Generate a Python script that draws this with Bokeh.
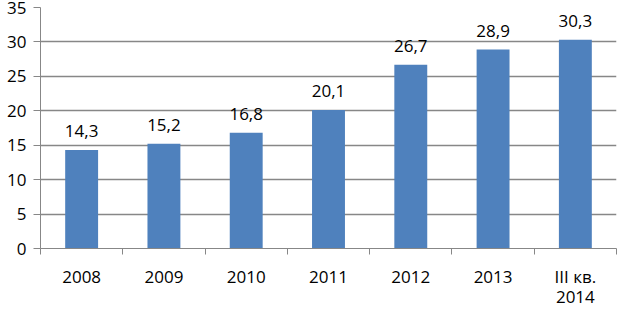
from bokeh.plotting import figure
from bokeh.models import FixedTicker, Range1d, ColumnDataSource, LinearAxis
from bokeh.core.properties import value
from bokeh.embed import file_html
from bokeh.resources import INLINE

categories = ["2008", "2009", "2010", "2011", "2012", "2013", "III кв."]
categories_line2 = ["", "", "", "", "", "", "2014"]
values = [14.3, 15.2, 16.8, 20.1, 26.7, 28.9, 30.3]
y_ticks = [0, 5, 10, 15, 20, 25, 30, 35]

FONT = "Open Sans"
FS = "17px"
BAR = "#4f81bd"
GRID = "#878787"

n = len(categories)
xs = [i + 0.5 for i in range(n)]
labels = [f"{v:.1f}".replace(".", ",") for v in values]
src = ColumnDataSource(dict(x=xs, top=values, label=labels))

p = figure(width=617, height=309, output_backend="svg", toolbar_location=None,
           x_range=Range1d(0, n), y_range=Range1d(0, 35),
           min_border_left=40, min_border_right=1, min_border_top=7,
           min_border_bottom=0)
p.outline_line_color = None
p.background_fill_color = "white"
p.border_fill_color = "white"

p.vbar(x="x", top="top", width=0.4, bottom=0, source=src,
       fill_color=BAR, line_color=None)
p.text(x="x", y="top", text="label", source=src, text_align="center",
       text_baseline="bottom", y_offset=-13, text_font=value(FONT),
       text_font_size=FS, text_color="#000000")

# x axis: labels at category centres, ticks at category boundaries
xa = p.xaxis[0]
xa.ticker = FixedTicker(ticks=xs, minor_ticks=list(range(n + 1)))
xa.major_label_overrides = {x: c for x, c in zip(xs, categories)}
xa.major_tick_line_color = None
xa.major_tick_out = 6
xa.major_tick_in = 0
xa.minor_tick_line_color = GRID
xa.minor_tick_in = 0
xa.minor_tick_out = 6
xa.axis_line_color = GRID
xa.major_label_standoff = 10
xa.major_label_text_font = FONT
xa.major_label_text_font_size = FS
xa.major_label_text_color = "#000000"

# second line of the last category label
xa2 = LinearAxis(ticker=FixedTicker(ticks=xs, minor_ticks=[]),
                 major_label_overrides={x: c for x, c in zip(xs, categories_line2)})
xa2.axis_line_color = None
xa2.major_tick_line_color = None
xa2.minor_tick_line_color = None
xa2.major_tick_out = 0
xa2.major_tick_in = 0
xa2.major_label_standoff = 0
xa2.major_label_text_font = FONT
xa2.major_label_text_font_size = FS
xa2.major_label_text_color = "#000000"
xa2.axis_label = " "
xa2.axis_label_text_font_size = "1px"
xa2.axis_label_standoff = 0
p.add_layout(xa2, "below")

ya = p.yaxis[0]
ya.ticker = FixedTicker(ticks=y_ticks, minor_ticks=[])
ya.major_tick_in = 0
ya.major_tick_out = 7
ya.major_tick_line_color = GRID
ya.axis_line_color = GRID
ya.major_label_standoff = 7
ya.major_label_text_font = FONT
ya.major_label_text_font_size = FS
ya.major_label_text_color = "#000000"

p.xgrid.grid_line_color = None
p.ygrid.grid_line_color = GRID
p.ygrid.grid_line_width = 1.5

open("out.html", "w").write(file_html(p, INLINE))
